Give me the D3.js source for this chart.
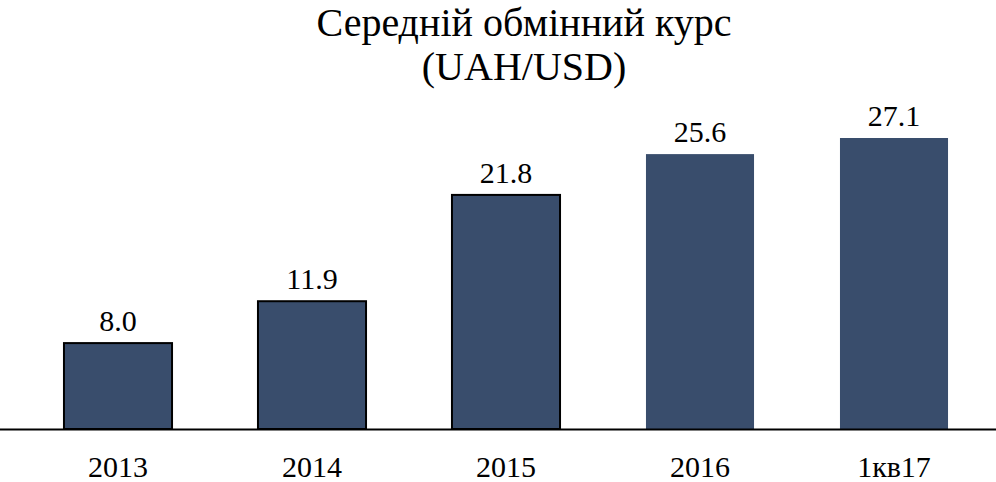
<!DOCTYPE html>
<html><head><meta charset="utf-8">
<script src="https://cdn.jsdelivr.net/npm/d3@7/dist/d3.min.js"></script>
<style>body{margin:0;background:#fff}svg{display:block}</style>
</head><body><svg id="c" width="996" height="482"></svg>
<script>
const categories = ["2013","2014","2015","2016","1кв17"];
const values = [8.0, 11.9, 21.8, 25.6, 27.1];
const labels = ["8.0","11.9","21.8","25.6","27.1"];
const outlined = [true, true, true, false, false];
const titleLines = ["Середній обмінний курс","(UAH/USD)"];

const W = 996, H = 482, base = 429;
const font = "'Liberation Serif', 'DejaVu Serif', serif";
const svg = d3.select("#c");
const x = d3.scaleBand().domain(categories).range([21, 991]).paddingInner(0.443).paddingOuter(0.2215);
const y = d3.scaleLinear().domain([0, 27.1]).range([base, 138]);

svg.selectAll("rect.bar").data(values).enter().append("rect")
  .attr("class","bar")
  .attr("x",(d,i)=>x(categories[i]))
  .attr("y",d=>y(d))
  .attr("width",x.bandwidth())
  .attr("height",d=>base-y(d))
  .attr("fill","#394d6c")
  .attr("stroke",(d,i)=>outlined[i]?"#000":"none")
  .attr("stroke-width",2);

svg.selectAll("text.val").data(values).enter().append("text")
  .attr("x",(d,i)=>x(categories[i])+x.bandwidth()/2)
  .attr("y",d=>y(d)-12)
  .attr("text-anchor","middle")
  .style("font-family",font).style("font-size","30px").attr("fill","#000")
  .text((d,i)=>labels[i]);

const axis = d3.axisBottom(x).tickSize(0).tickPadding(0);
const g = svg.append("g").attr("transform",`translate(0,${base})`).call(axis);
g.select(".domain").remove();
g.selectAll("text").attr("dy",null).attr("y",48)
  .style("font-family",font).style("font-size","30px").attr("fill","#000");
svg.append("line").attr("x1",0).attr("x2",W).attr("y1",base+0.5).attr("y2",base+0.5)
  .attr("stroke","#000").attr("stroke-width",2);

svg.selectAll("text.title").data(titleLines).enter().append("text")
  .attr("x",524).attr("y",(d,i)=>36+i*44)
  .attr("text-anchor","middle")
  .style("font-family",font).style("font-size","40px").attr("fill","#000")
  .text(d=>d);
</script></body></html>
